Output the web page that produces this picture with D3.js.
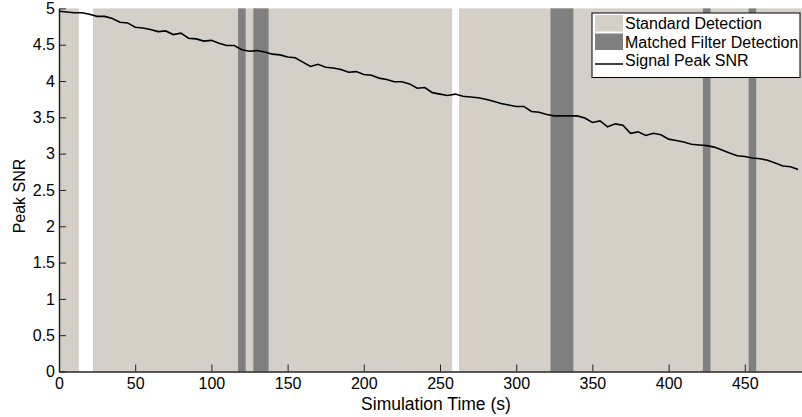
<!DOCTYPE html>
<html>
<head>
<meta charset="utf-8">
<script src="https://cdn.jsdelivr.net/npm/d3@7"></script>
<style>
  body { margin: 0; background: #fff; overflow: hidden; }
  text { font-family: "Liberation Sans", Arial, sans-serif; }
</style>
</head>
<body>
<script>
const width = 802;
const height = 417;

// time samples every 5 s
const times = d3.range(0, 490, 5);
const snr = [
  4.96, 4.95, 4.94, 4.94, 4.92, 4.89, 4.89, 4.86, 4.81, 4.80,
  4.74, 4.73, 4.71, 4.68, 4.69, 4.64, 4.66, 4.59, 4.58, 4.55,
  4.56, 4.52, 4.49, 4.49, 4.43, 4.41, 4.42, 4.40, 4.37, 4.36,
  4.33, 4.32, 4.26, 4.20, 4.23, 4.19, 4.18, 4.16, 4.12, 4.13,
  4.09, 4.08, 4.04, 4.02, 3.99, 3.99, 3.96, 3.90, 3.91, 3.84,
  3.82, 3.80, 3.82, 3.79, 3.78, 3.77, 3.75, 3.72, 3.69, 3.67,
  3.65, 3.65, 3.58, 3.57, 3.54, 3.52, 3.52, 3.52, 3.52, 3.49,
  3.43, 3.45, 3.37, 3.41, 3.39, 3.28, 3.30, 3.25, 3.28, 3.26,
  3.20, 3.18, 3.16, 3.13, 3.12, 3.11, 3.09, 3.05, 3.01, 2.97,
  2.96, 2.94, 2.93, 2.91, 2.87, 2.83, 2.82, 2.78
];

// detection intervals [start, end] in seconds
const standardSpans = [[0, 13], [22.3, 258], [262.5, 490]];
const matchedSpans = [[117.5, 122.5], [127.5, 137.5], [322.5, 337.5], [422.5, 427.5], [452.5, 457.5]];

const xTicks = d3.range(0, 451, 50);
const yTicks = d3.range(0, 5.01, 0.5);
const legendLabels = ["Standard Detection", "Matched Filter Detection", "Signal Peak SNR"];

const lightGray = "#d4d0c8";
const darkGray = "#808080";

const margin = {left: 59, top: 8.4, bottom: 45.5};

const x = d3.scaleLinear()
  .domain([0, 490])
  .range([margin.left, margin.left + 490 * 1.524]);

const y = d3.scaleLinear()
  .domain([0, 5])
  .range([height - margin.bottom, margin.top]);

const svg = d3.select("body")
  .append("svg")
  .attr("width", width)
  .attr("height", height);

// background detection bands
svg.append("g")
  .selectAll("rect")
  .data(standardSpans)
  .enter()
  .append("rect")
  .attr("x", d => x(d[0]))
  .attr("width", d => x(d[1]) - x(d[0]))
  .attr("y", y(5))
  .attr("height", y(0) - y(5))
  .attr("fill", lightGray);

svg.append("g")
  .selectAll("rect")
  .data(matchedSpans)
  .enter()
  .append("rect")
  .attr("x", d => x(d[0]))
  .attr("width", d => x(d[1]) - x(d[0]))
  .attr("y", y(5))
  .attr("height", y(0) - y(5))
  .attr("fill", darkGray);

// axes
const xAxis = svg.append("g")
  .attr("transform", `translate(0,${y(0)})`)
  .call(d3.axisBottom(x).tickValues(xTicks).tickSize(-7).tickSizeOuter(0).tickPadding(6).tickFormat(d3.format("d")));

const yAxis = svg.append("g")
  .attr("transform", `translate(${x(0)},0)`)
  .call(d3.axisLeft(y).tickValues(yTicks).tickSize(-7).tickSizeOuter(0).tickPadding(4).tickFormat(d3.format("~g")));

[xAxis, yAxis].forEach(g => {
  g.selectAll("text").attr("font-size", 16).attr("fill", "#000").attr("font-family", "Liberation Sans, Arial, sans-serif");
  g.selectAll("line").attr("stroke", "#222");
  g.select(".domain").attr("stroke", "#222").attr("stroke-width", 1.5);
});

// SNR line
const line = d3.line()
  .x((d, i) => x(times[i]))
  .y(d => y(d));

svg.append("path")
  .datum(snr)
  .attr("d", line)
  .attr("fill", "none")
  .attr("stroke", "#000")
  .attr("stroke-width", 1.6);

// axis titles
svg.append("text")
  .attr("x", 436)
  .attr("y", 410)
  .attr("text-anchor", "middle")
  .attr("font-size", 17.5)
  .text("Simulation Time (s)");

svg.append("text")
  .attr("transform", "translate(25,196) rotate(-90)")
  .attr("text-anchor", "middle")
  .attr("font-size", 16)
  .text("Peak SNR");

// legend
const legend = svg.append("g").attr("transform", "translate(592,13)");
legend.append("rect")
  .attr("width", 208)
  .attr("height", 64.5)
  .attr("fill", "#fff")
  .attr("stroke", "#000")
  .attr("stroke-width", 1);

const rows = legend.selectAll("g.row")
  .data(legendLabels)
  .enter()
  .append("g")
  .attr("class", "row")
  .attr("transform", (d, i) => `translate(0,${2 + i * 18.5})`);

rows.filter((d, i) => i < 2)
  .append("rect")
  .attr("x", 3)
  .attr("y", 0)
  .attr("width", 28)
  .attr("height", 16.5)
  .attr("fill", (d, i) => i === 0 ? lightGray : darkGray);

rows.filter((d, i) => i === 2)
  .append("line")
  .attr("x1", 3)
  .attr("x2", 31)
  .attr("y1", 12)
  .attr("y2", 12)
  .attr("stroke", "#000")
  .attr("stroke-width", 1.5);

rows.append("text")
  .attr("x", 33)
  .attr("y", 14)
  .attr("font-size", 16)
  .text(d => d);
</script>
</body>
</html>
